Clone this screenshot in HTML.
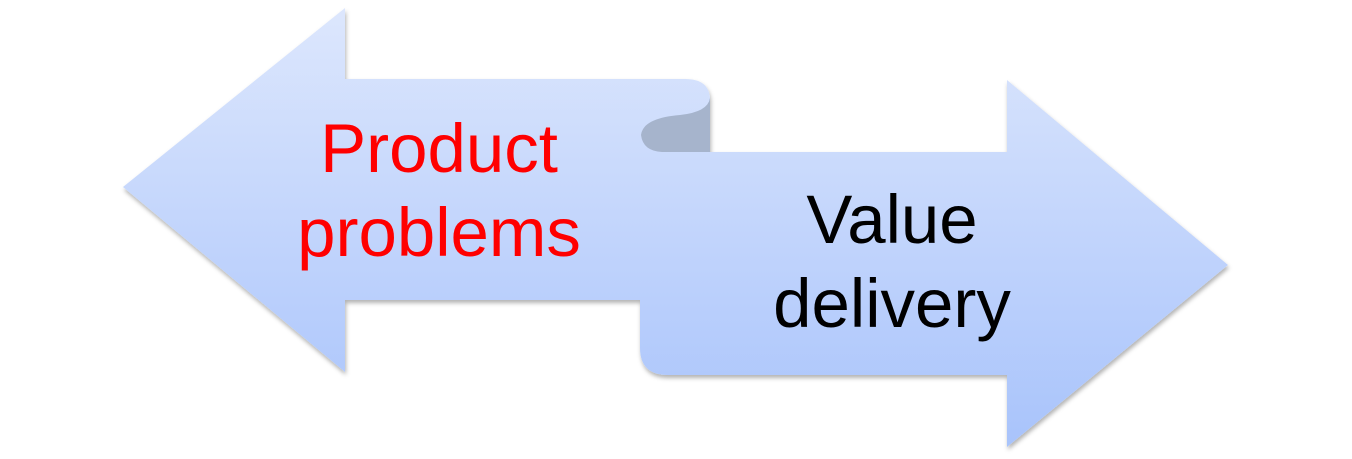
<!DOCTYPE html>
<html><head><style>html,body{margin:0;padding:0;background:#fff}svg{display:block}</style></head>
<body>
<svg width="1352" height="459" viewBox="0 0 1352 459" xmlns="http://www.w3.org/2000/svg">
<defs>
<linearGradient id="g" gradientUnits="userSpaceOnUse" x1="0" y1="5" x2="0" y2="450">
<stop offset="0" stop-color="#dde7fd"/><stop offset="1" stop-color="#a8c3fb"/>
</linearGradient>
<filter id="s" x="-5%" y="-5%" width="110%" height="115%"><feDropShadow dx="1" dy="3" stdDeviation="2" flood-color="#000" flood-opacity="0.3"/></filter>
</defs>
<g filter="url(#s)">
<path d="M640,152 L1007,152 L1007,80 L1228,265 L1007,447 L1007,375 L668,375 Q640,375 640,348 Z" fill="url(#g)"/>
<path d="M123,187 L345,8 L345,79 L685,79 Q710,79 710,100 L710,152 L660,152 Q641,150 641,135 Q643,118 680,115 Q710,112 710,100 L710,300 L345,300 L345,372 Z" fill="url(#g)"/>
<path d="M710,98 Q708,112 680,115 Q643,118 641,135 Q643,151 662,152 L710,152 Z" fill="#a6b4cc"/>
</g>
<g font-family="Liberation Sans, sans-serif" font-size="69" text-anchor="middle">
<text x="439" y="172" fill="#ff0000">Product</text>
<text x="439" y="256" fill="#ff0000">problems</text>
<text x="892" y="243" fill="#000">Value</text>
<text x="892" y="327" fill="#000">delivery</text>
</g>
</svg>
</body></html>
